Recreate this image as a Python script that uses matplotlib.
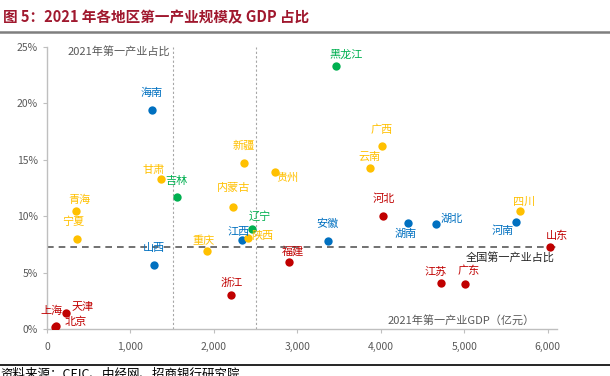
import matplotlib
matplotlib.use("Agg")
import matplotlib.pyplot as plt
from matplotlib.ticker import FuncFormatter

plt.rcParams['font.family'] = ['Noto Sans CJK SC', 'DejaVu Sans']

# 2021 primary industry GDP (100m yuan) and its share of GDP (%)
regions = ["海南", "黑龙江", "广西", "云南", "新疆", "贵州", "甘肃", "吉林",
           "青海", "宁夏", "内蒙古", "辽宁", "江西", "陕西", "重庆", "山西",
           "浙江", "福建", "上海", "北京", "天津", "安徽", "河北", "湖南",
           "湖北", "河南", "四川", "山东", "江苏", "广东"]
gdp1 = [1254, 3463, 4016, 3870, 2356, 2730, 1364, 1553,
        352, 364, 2225, 2461, 2334, 2409, 1922, 1286,
        2209, 2897, 100, 111, 225, 3361, 4030, 4323,
        4662, 5620, 5661, 6029, 4722, 5004]
share = [19.4, 23.3, 16.2, 14.3, 14.7, 13.9, 13.3, 11.7,
         10.5, 8.0, 10.8, 8.9, 7.9, 8.1, 6.9, 5.7,
         3.0, 5.9, 0.2, 0.3, 1.4, 7.8, 10.0, 9.4,
         9.3, 9.5, 10.5, 7.3, 4.1, 4.0]
group = ["b", "g", "y", "y", "y", "y", "y", "g",
         "y", "y", "y", "g", "b", "y", "y", "b",
         "r", "r", "r", "r", "r", "b", "r", "b",
         "b", "b", "y", "r", "r", "r"]
national_share = 7.3
gdp1_lines = [1510, 2500]

colors = {"r": "#C00000", "b": "#0070C0", "g": "#00B050", "y": "#FFC000"}

# label offsets in pixels
offsets = {"海南": (0, 17), "黑龙江": (10, 11), "广西": (0, 17), "云南": (-1, 11),
           "新疆": (0, 17), "贵州": (13, -6), "甘肃": (-7, 9), "吉林": (0, 16),
           "青海": (3, 11), "宁夏": (-4, 17), "内蒙古": (1, 19), "辽宁": (7, 12),
           "江西": (-3, 8), "陕西": (14, 2), "重庆": (-4, 10), "山西": (0, 17),
           "浙江": (0, 12), "福建": (4, 11), "上海": (-4, 16), "北京": (19, 4),
           "天津": (17, 6), "安徽": (0, 17), "河北": (0, 17), "湖南": (-2, -11),
           "湖北": (16, 5), "河南": (-13, -9), "四川": (5, 9), "山东": (7, 11),
           "江苏": (-5, 11), "广东": (4, 13)}

fig = plt.figure(figsize=(6.1, 3.76), dpi=100)
ax = fig.add_axes([47 / 610, 1 - 329 / 376, 510 / 610, 282 / 376])

for xv in gdp1_lines:
    ax.axvline(xv, color="#A6A6A6", lw=0.8, ls=(0, (2, 2)), zorder=1)
ax.axhline(national_share, color="#595959", lw=1.2, ls=(0, (4, 3)), zorder=1)

for name, xv, yv, g in zip(regions, gdp1, share, group):
    c = colors[g]
    ax.scatter(xv, yv, s=36, color=c, zorder=3, linewidths=0)
    dx, dy = offsets[name]
    ax.annotate(name, (xv, yv), xytext=(dx, dy), textcoords="offset pixels",
                ha="center", va="center", fontsize=8, color=c, zorder=4)

ax.text(6080, national_share - 0.95, "全国第一产业占比", ha="right", va="center",
        fontsize=8, color="#262626")
ax.text(250, 24.6, "2021年第一产业占比", ha="left", va="center",
        fontsize=8, color="#595959")
ax.text(4960, 0.8, "2021年第一产业GDP（亿元）", ha="center", va="center",
        fontsize=8, color="#595959")

ax.set_xlim(0, 6110)
ax.set_ylim(0, 25)
ax.set_xticks(range(0, 7000, 1000))
ax.set_yticks(range(0, 30, 5))
ax.xaxis.set_major_formatter(FuncFormatter(lambda v, p: f"{int(v):,}"))
ax.yaxis.set_major_formatter(FuncFormatter(lambda v, p: f"{int(v)}%"))
ax.tick_params(axis="both", colors="#BFBFBF", labelcolor="#595959",
               length=3, width=0.8, labelsize=7.5)
ax.tick_params(axis="x", pad=6)

for loc, spine in ax.spines.items():
    if loc in ["left", "bottom"]:
        spine.set_color("#BFBFBF")
        spine.set_linewidth(1.0)
    else:
        spine.set_visible(False)

# header and footer
fig.text(3 / 610, 1 - 17 / 376, "图 5：2021 年各地区第一产业规模及 GDP 占比",
         ha="left", va="center", fontsize=10.5, fontweight="bold", color="#A0182E")
fig.add_artist(plt.Line2D([0, 1], [1 - 32 / 376, 1 - 32 / 376],
                          color="#7F7F7F", lw=1.8))
fig.add_artist(plt.Line2D([0, 1], [1 - 365 / 376, 1 - 365 / 376],
                          color="#000000", lw=1.2))
fig.text(0, 1 - 368 / 376, "资料来源：CEIC、中经网、招商银行研究院",
         ha="left", va="top", fontsize=9, color="#000000")

fig.savefig("out.png", dpi=100)
